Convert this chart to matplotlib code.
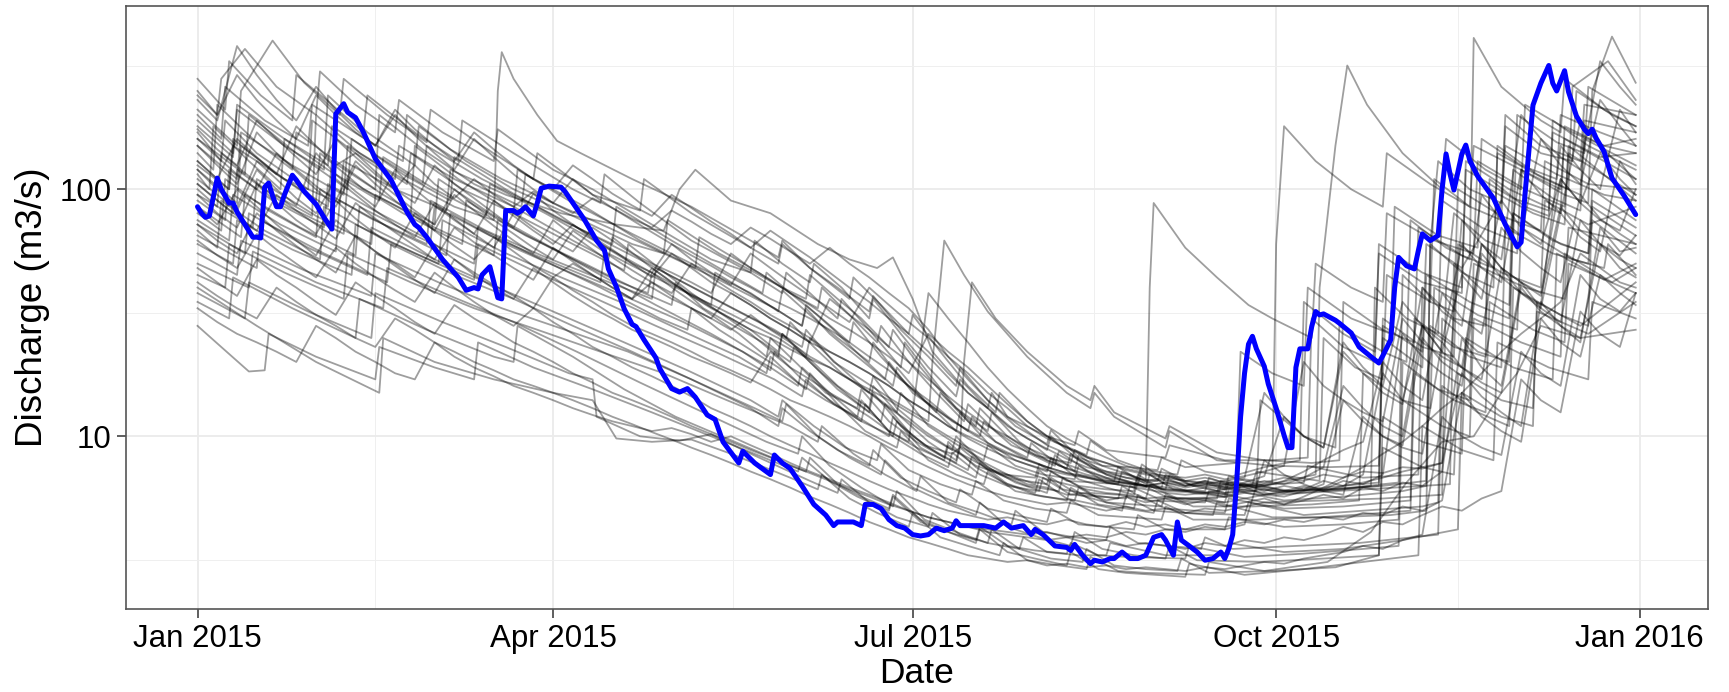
import numpy as np
import matplotlib
matplotlib.use('Agg')
import matplotlib.pyplot as plt
import matplotlib.dates as mdates
from matplotlib.ticker import FixedLocator, NullFormatter, FixedFormatter

plt.rcParams['font.family'] = ['Liberation Sans', 'DejaVu Sans']

START = np.datetime64('2015-01-01')

# ---- 2015 discharge (blue) : day offset from 1 Jan 2015, value (m3/s)
blue_days = [0, 1, 2, 3, 5, 6, 8, 9, 10, 12, 14, 15, 16, 17, 18, 19, 20, 21, 22, 24, 25, 27, 30, 32, 34,
             35, 37, 38, 40, 42, 45, 49, 53, 55, 56, 58, 62, 66, 68, 70, 71, 72, 74, 75, 76, 77, 78, 80,
             81, 82, 83, 85, 86, 87, 89, 92, 93, 95, 98, 101, 103, 104, 106, 108, 110, 111, 113, 116, 117,
             120, 122, 124, 126, 129, 131, 133, 136, 137, 138, 141, 145, 146, 148, 150, 153, 156, 159, 161,
             162, 164, 166, 168, 169, 171, 173, 175, 177, 179, 181, 183, 185, 187, 189, 191, 192, 193, 196,
             199, 202, 204, 206, 209, 211, 212, 214, 217, 220, 221, 222, 224, 226, 227, 229, 231, 232, 234,
             236, 238, 240, 242, 244, 245, 247, 248, 249, 251, 253, 255, 257, 259, 260, 261, 262, 263, 264,
             265, 266, 267, 268, 270, 271, 273, 275, 276, 277, 278, 279, 280, 281, 282, 283, 284, 285, 288,
             289, 292, 294, 297, 299, 300, 302, 303, 304, 306, 308, 309, 310, 312, 314, 315, 316, 317, 318,
             320, 321, 322, 324, 328, 331, 334, 335, 336, 338, 340, 342, 343, 344, 346, 347, 349, 351, 352,
             353, 354, 356, 358, 361, 364]
blue_q = [85, 80, 77, 78, 111, 100, 88, 88, 81, 72, 64, 64, 63.5, 102, 106, 94, 85, 85, 95, 114, 109, 98, 87, 77, 69,
          202, 222, 205, 195, 170, 133, 109, 81, 72, 70, 64, 52, 44, 39, 40, 39.5, 45, 48.6, 42, 36.4, 36, 82, 82,
          80, 82, 85, 78, 88, 101, 103, 102, 98, 88, 75, 62, 56.6, 47.6, 40.3, 32.8, 28.4, 27.8, 24.6, 20.8, 18.8,
          15.6, 15.1, 15.6, 14.4, 12.2, 11.7, 9.5, 8.2, 7.8, 8.7, 7.8, 7.0, 8.4, 7.8, 7.4, 6.3, 5.3, 4.8, 4.35,
          4.5, 4.5, 4.5, 4.35, 5.3, 5.3, 5.1, 4.6, 4.35, 4.25, 4.0, 3.95, 4.0, 4.25, 4.15, 4.25, 4.55, 4.35, 4.35,
          4.35, 4.25, 4.5, 4.25, 4.35, 4.0, 4.2, 4.0, 3.6, 3.55, 3.45, 3.65, 3.3, 3.05, 3.15, 3.1, 3.2, 3.2, 3.4,
          3.2, 3.2, 3.3, 3.9, 4.0, 3.8, 3.3, 4.5, 3.8, 3.6, 3.4, 3.15, 3.2, 3.4, 3.2, 3.5, 4.0, 6.5, 12,
          18, 23.6, 25.4, 22.6, 19.2, 16.3, 13, 10.1, 9.0, 9.0, 19, 22.6, 22.6, 22.6, 27.8, 32, 31, 31.3, 29.5,
          28.7, 26.2, 23, 21, 19.8, 21.2, 24.6, 40, 53, 49, 47.6, 56.6, 66, 62, 65, 100, 139, 115.5, 99.3,
          139, 151, 131, 113, 92, 72, 58.5, 61, 96, 219, 269, 317, 269, 250, 302, 248, 198, 175, 168,
          175, 161, 142, 111, 94.6, 79]

# ---- historical years (gray), irregular sampling: (day offset, discharge)
hist_01 = [(0,280),(7,210),(8,330),(16,240),(24,190),(25,290),(34,220),(42,170),(43,240),(55,170),(66,130),(67,190),(80,140),(95,100),(102,88),(103,115),(112,88),(125,62),(140,46),(148,38),(149,46),(155,38),(162,30),(163,36),(170,27),(178,19),(179,24),(185,18),(192,13),(200,10.5),(201,12.5),(208,9.5),(215,8),(222,7.2),(223,8.4),(230,7),(237,6.4),(245,6.1),(246,7),(252,6.3),(260,5.9),(268,6.0),(269,14),(280,10),(288,9),(289,28),(300,22),(306,20),(307,75),(316,58),(322,52),(323,410),(330,260),(340,190),(345,170),(346,280),(356,210),(364,180)]
hist_02 = [(0,240),(5,200),(6,280),(12,370),(20,260),(30,200),(31,300),(40,220),(50,170),(51,230),(62,170),(75,130),(76,175),(90,120),(100,100),(115,72),(130,52),(140,46),(141,62),(148,50),(155,42),(156,50),(163,40),(170,30),(171,36),(178,26),(185,19),(192,14.5),(193,17),(200,13),(207,10.5),(215,8.8),(216,10),(223,8),(230,7),(238,6.4),(239,7.3),(245,6.4),(252,5.9),(260,5.7),(261,6.6),(270,5.8),(285,6.2),(299,6.5),(300,28),(310,22),(311,60),(320,48),(330,90),(331,200),(340,150),(350,130),(351,220),(364,200)]
hist_03 = [(0,210),(10,150),(11,250),(19,400),(27,270),(36,200),(37,280),(48,200),(58,155),(59,210),(72,150),(85,110),(86,140),(100,95),(112,82),(113,110),(125,80),(140,58),(147,50),(148,60),(155,48),(165,36),(166,44),(173,34),(180,26),(181,31),(188,22),(195,16),(202,12.5),(203,15),(210,11.5),(217,9.5),(225,8.4),(226,9.6),(233,8),(240,7.3),(248,7),(249,8),(255,7.2),(262,6.9),(270,7.5),(279,8),(280,35),(290,26),(298,22),(299,55),(310,42),(320,38),(321,130),(332,100),(345,80),(346,180),(356,150),(364,160)]
hist_04 = [(0,190),(9,140),(10,210),(22,150),(32,120),(33,240),(43,170),(55,125),(56,180),(68,130),(80,100),(95,78),(110,60),(118,55),(119,75),(132,55),(140,47),(148,40),(154,36),(155,45),(162,36),(168,30),(175,23),(176,27),(183,19),(190,14),(197,11),(198,13),(205,10),(212,8.4),(220,7.4),(221,8.5),(228,7.2),(235,6.8),(243,6.6),(244,7.4),(250,6.6),(265,6.3),(280,6.5),(281,7.6),(295,6.8),(309,7),(310,40),(318,30),(326,28),(327,110),(336,85),(342,78),(343,190),(352,150),(364,120)]
hist_05 = [(0,170),(6,130),(7,190),(15,140),(28,100),(29,190),(40,140),(50,110),(51,150),(65,110),(80,85),(95,62),(104,52),(105,64),(115,48),(125,37),(140,27),(147,22),(148,26),(155,20.5),(162,16),(170,13),(171,16),(178,12),(185,9.5),(192,8),(193,9.3),(200,7.5),(207,6.5),(215,5.9),(216,6.8),(223,5.8),(230,5.4),(237,5.1),(238,5.8),(245,5.1),(260,4.9),(261,5.6),(275,5.1),(290,5.2),(307,5.5),(308,30),(318,23),(326,21),(327,100),(338,80),(346,72),(347,150),(364,90)]
hist_06 = [(0,160),(12,115),(13,200),(25,140),(38,100),(39,160),(52,115),(64,90),(65,135),(78,100),(92,75),(105,60),(106,85),(120,62),(135,45),(143,38),(144,46),(150,38),(158,30),(165,24),(166,29),(173,21),(180,16),(187,12.5),(188,15),(195,11.5),(202,9.5),(210,8.2),(211,9.4),(218,7.6),(225,7),(232,6.6),(233,7.5),(240,6.4),(248,6.1),(255,6),(256,6.8),(263,6.2),(270,6.3),(283,7),(284,40),(288,150),(291,317),(296,220),(305,140),(315,100),(316,160),(326,120),(335,100),(336,220),(348,170),(356,150),(364,140)]
hist_07 = [(0,140),(4,120),(5,220),(14,160),(24,120),(25,170),(35,130),(45,100),(46,200),(57,145),(70,105),(82,85),(83,115),(98,85),(112,62),(126,48),(127,64),(142,46),(150,38),(157,33),(158,40),(165,31),(172,24),(173,28),(180,20),(187,15),(194,11.5),(195,13.5),(202,10.5),(210,8.6),(217,7.6),(218,8.7),(225,7.3),(232,6.6),(240,6.2),(241,7),(247,6.1),(255,5.9),(262,5.8),(263,6.5),(277,6),(292,6.2),(304,6.5),(305,45),(312,35),(313,110),(322,85),(330,75),(331,180),(340,140),(348,130),(349,250),(358,200),(364,180)]
hist_08 = [(0,130),(8,100),(9,160),(20,115),(30,90),(31,140),(42,100),(54,80),(55,150),(66,110),(80,80),(95,60),(108,47),(109,60),(125,38),(140,26),(147,21),(148,26),(155,20),(162,15.5),(170,12.5),(171,15),(178,11),(185,9),(192,7.8),(193,9),(200,7.3),(207,6.7),(215,6.4),(216,7.2),(223,6.3),(230,6.1),(237,6),(238,6.8),(245,6),(255,5.9),(260,6.1),(272,6.5),(273,60),(275,180),(283,130),(292,100),(300,85),(301,140),(312,105),(322,85),(323,150),(335,120),(345,100),(346,160),(364,110)]
hist_09 = [(0,120),(10,88),(11,150),(22,110),(33,85),(34,130),(47,95),(60,72),(61,110),(74,80),(88,60),(102,45),(116,34),(130,26),(145,19),(152,16),(153,19),(160,15),(167,12),(175,10),(176,12),(183,9),(190,7.8),(197,6.8),(198,7.8),(205,6.4),(212,5.8),(220,5.5),(221,6.2),(228,5.3),(235,5.1),(242,4.9),(243,5.5),(250,4.9),(265,4.8),(266,5.4),(280,4.8),(295,5),(310,5.2),(314,5.4),(315,30),(324,22),(332,20),(333,80),(343,62),(352,55),(353,100),(364,75)]
hist_10 = [(0,115),(3,100),(4,180),(13,130),(21,100),(22,160),(33,120),(46,90),(47,135),(60,100),(73,78),(74,105),(88,80),(102,60),(116,45),(130,34),(131,46),(146,33),(153,28),(154,34),(161,27),(168,21),(176,16),(177,19),(184,14),(191,11.5),(198,10),(199,11.5),(206,9.2),(213,8.3),(221,7.8),(222,8.8),(229,7.6),(236,7.5),(243,7.3),(244,8.2),(250,7.5),(263,7.8),(264,22),(272,18),(280,16),(281,40),(292,30),(302,26),(303,85),(314,65),(324,58),(325,160),(335,125),(344,110),(345,200),(355,170),(364,150)]
hist_11 = [(0,105),(9,80),(10,120),(23,85),(37,66),(38,110),(52,80),(67,60),(68,90),(83,65),(98,50),(113,38),(120,34),(121,42),(128,33),(143,24),(150,20),(151,23),(158,18),(165,14.5),(173,11.5),(174,13.5),(181,10),(188,8.4),(195,7.3),(196,8.3),(203,7),(210,6.3),(218,6),(219,6.8),(226,5.9),(233,5.8),(240,5.6),(241,6.3),(248,5.6),(263,5.7),(264,6.4),(278,5.9),(290,6.1),(299,6.3),(300,25),(310,19),(311,45),(322,35),(332,30),(333,80),(345,60),(352,55),(353,85),(364,65)]
hist_12 = [(0,100),(5,85),(6,140),(17,100),(29,78),(30,200),(41,140),(53,105),(54,140),(67,100),(80,80),(81,120),(95,88),(110,66),(125,50),(140,38),(147,32),(148,39),(155,31),(162,25),(170,20),(171,24),(178,17),(185,13.5),(192,10.5),(193,12.5),(200,9.4),(207,8),(215,7.2),(216,8.2),(223,6.7),(230,6.2),(237,5.8),(238,6.5),(245,5.7),(260,5.4),(261,6.1),(275,5.5),(290,5.7),(305,6),(311,6.3),(312,60),(320,46),(328,40),(329,150),(339,115),(347,100),(348,260),(357,330),(364,230)]
hist_13 = [(0,95),(14,70),(15,110),(30,78),(44,60),(45,95),(60,70),(75,54),(76,75),(92,55),(107,42),(114,38),(115,46),(122,38),(137,26),(144,21),(145,25),(152,19.5),(159,15),(167,13),(168,15.5),(175,11.5),(182,9.5),(189,8.2),(190,9.5),(197,7.5),(204,6.5),(212,5.9),(213,6.7),(220,5.6),(227,5.3),(234,5.0),(235,5.7),(242,5),(257,4.8),(258,5.4),(272,4.7),(287,4.7),(302,4.8),(311,5),(312,28),(322,21),(330,19),(331,70),(343,55),(352,50),(353,75),(364,55)]
hist_14 = [(0,90),(7,75),(8,120),(19,90),(32,70),(33,105),(46,80),(59,62),(60,85),(74,65),(88,52),(102,42),(103,56),(117,43),(132,33),(147,25),(154,21),(155,25),(162,19.5),(169,15.5),(177,12.5),(178,15),(185,11),(192,9.3),(199,8),(200,9.2),(207,7.6),(214,7),(222,6.7),(223,7.6),(230,6.5),(237,6.4),(244,6.2),(245,7),(252,6.3),(267,6.4),(268,7.2),(284,6.6),(285,25),(293,19),(300,17),(301,45),(312,35),(318,32),(319,100),(330,78),(340,68),(341,130),(352,105),(364,100)]
hist_15 = [(0,85),(11,64),(12,95),(26,70),(40,54),(41,85),(56,64),(70,50),(71,70),(87,52),(102,40),(117,30),(124,27),(125,33),(132,27),(147,19),(154,15.5),(155,18),(162,13.5),(169,10.5),(177,9),(178,10.5),(185,8),(192,7),(199,6.4),(200,7.2),(207,6),(214,5.7),(222,5.5),(223,6.2),(230,5.4),(237,5.3),(244,5.2),(245,5.8),(252,5.2),(267,5.2),(282,5.3),(294,5.5),(295,18),(305,14),(312,13),(313,40),(324,31),(334,27),(335,70),(348,52),(356,48),(357,60),(364,45)]
hist_16 = [(0,80),(6,68),(7,110),(18,82),(30,64),(31,100),(44,76),(58,60),(59,90),(73,68),(87,54),(101,44),(115,36),(116,48),(131,36),(146,27),(153,23),(154,27),(161,20),(168,17),(176,14),(185,11.5),(186,20),(189,62),(194,45),(200,32),(210,21),(220,15),(226,13),(227,15),(232,12),(245,9),(246,10.5),(258,8),(272,7.6),(286,7.5),(299,7.6),(300,30),(310,23),(318,21),(319,60),(330,46),(340,40),(341,90),(352,72),(364,85)]
hist_17 = [(0,75),(8,62),(9,95),(21,72),(35,56),(36,90),(50,68),(63,54),(64,80),(78,60),(93,47),(108,37),(123,29),(138,22),(145,18.5),(146,22),(153,17),(160,14),(168,11.5),(169,13.5),(176,10),(183,8.5),(190,7.5),(191,8.6),(198,7),(205,6.3),(213,6),(214,6.8),(221,5.8),(228,5.7),(235,5.6),(236,6.3),(243,5.6),(258,5.6),(259,6.3),(273,5.8),(288,6),(303,6.2),(317,6.4),(318,50),(326,38),(332,34),(333,120),(343,92),(350,82),(351,160),(364,125)]
hist_18 = [(0,72),(12,55),(13,80),(28,58),(43,45),(44,70),(60,52),(76,40),(92,31),(108,24),(124,18.5),(140,14),(147,12),(148,14),(156,11),(164,9),(172,8),(173,9.3),(180,7.3),(188,6.4),(196,5.8),(197,6.6),(204,5.5),(212,5.1),(220,4.9),(221,5.5),(228,4.8),(236,4.7),(244,4.6),(245,5.2),(252,4.6),(268,4.6),(284,4.7),(300,4.9),(307,5),(308,18),(318,14),(326,12.5),(327,35),(338,27),(346,24),(347,50),(364,38)]
hist_19 = [(0,68),(5,58),(6,90),(17,68),(31,52),(32,85),(46,64),(61,50),(62,75),(77,56),(92,44),(107,35),(122,27),(137,21),(144,18),(145,21),(152,16.5),(159,14),(167,12),(168,14),(175,10.5),(182,9),(189,8),(190,9.2),(197,7.6),(204,7),(212,6.8),(213,7.7),(220,6.6),(227,6.5),(233,6.4),(234,7.2),(240,6.6),(241,40),(242,88),(250,58),(258,44),(266,34),(272,30),(282,25),(283,50),(292,40),(300,35),(301,80),(313,62),(323,55),(324,130),(336,100),(346,85),(347,140),(364,95)]
hist_20 = [(0,65),(15,48),(16,75),(32,55),(48,42),(49,60),(65,45),(80,36),(95,28),(110,22),(125,17),(140,13),(147,11),(148,13),(155,10.5),(162,8.8),(170,7.6),(171,8.8),(178,6.8),(185,6),(192,5.4),(193,6.1),(200,5.1),(207,4.8),(215,4.5),(216,5.1),(223,4.4),(230,4.3),(237,4.2),(238,4.8),(245,4.2),(260,4.2),(261,4.7),(275,4.3),(290,4.4),(304,4.6),(305,20),(314,15.5),(322,14),(323,50),(336,40),(346,36),(347,70),(364,60)]
hist_21 = [(0,60),(9,50),(10,75),(24,57),(39,45),(40,72),(55,55),(70,43),(71,60),(86,46),(101,36),(116,28),(131,22),(146,17),(153,14.5),(154,17),(161,13.5),(168,11.5),(176,10),(177,11.5),(184,9.2),(191,8.5),(193,9),(194,20),(196,42),(202,30),(210,22),(220,16),(226,14),(227,16),(232,12.5),(245,9.8),(246,11),(258,8.6),(270,8),(282,7.8),(289,8),(290,35),(300,27),(308,24),(309,70),(320,54),(328,48),(329,140),(341,110),(350,95),(351,190),(364,170)]
hist_22 = [(0,55),(10,45),(11,62),(27,47),(44,37),(45,55),(61,42),(77,33),(93,27),(109,22),(125,17),(141,13),(148,11.5),(149,13.5),(157,10),(165,8.2),(173,7),(174,8),(181,6.2),(189,5.4),(197,4.8),(198,5.4),(205,4.3),(213,3.9),(221,3.6),(222,4.1),(229,3.5),(237,3.3),(245,3.2),(246,3.6),(253,3.15),(269,3.1),(285,3.2),(299,3.3),(300,12),(310,9.5),(320,8.5),(321,25),(333,19),(343,17),(344,55),(356,43),(364,50)]
hist_23 = [(0,50),(13,40),(14,56),(30,42),(47,33),(48,48),(64,37),(80,29),(96,22),(112,16.5),(128,12.5),(144,9.5),(152,8.5),(153,10),(160,7.6),(168,6.2),(176,5.2),(177,6),(184,4.6),(192,4.1),(200,3.7),(201,4.2),(208,3.5),(216,3.2),(224,3.1),(225,3.5),(232,3.0),(240,2.9),(248,2.85),(249,3.2),(256,2.8),(272,2.85),(288,2.95),(299,3.3),(300,9),(310,7.5),(318,7),(319,18),(330,14),(338,13),(339,32),(352,26),(364,35)]
hist_24 = [(0,45),(7,40),(8,60),(22,46),(37,36),(38,55),(54,42),(70,33),(86,27),(102,22),(118,18),(134,14),(150,11),(157,9.5),(158,11),(166,8.5),(174,7),(182,6),(183,6.9),(190,5.4),(198,4.9),(206,4.4),(207,5),(214,4.1),(222,3.9),(230,3.8),(231,4.3),(238,3.7),(246,3.6),(254,3.5),(255,3.9),(262,3.5),(278,3.6),(294,3.7),(314,4),(315,16),(324,12.5),(332,11),(333,40),(345,31),(352,28),(353,90),(364,70)]
hist_25 = [(0,40),(15,28),(30,20),(46,15),(47,25),(60,20),(75,17),(90,15),(100,14),(106,9.8),(115,9.5),(125,9.7),(135,8.5),(150,6.8),(157,6.1),(158,7),(165,5.6),(172,4.9),(180,4.3),(181,4.9),(188,3.9),(195,3.6),(203,3.3),(204,3.7),(210,3.15),(218,3.0),(225,2.9),(226,3.25),(233,2.85),(240,2.8),(255,2.75),(256,3.1),(270,2.85),(286,3.1),(297,4.1),(306,6.5),(315,9.5),(323,10),(330,15),(334,18),(340,28),(350,25),(364,27)]
hist_26 = [(0,38),(12,30),(13,42),(28,32),(44,25),(45,38),(62,29),(78,23),(94,18),(100,17),(101,12),(112,10),(122,9.6),(130,10.2),(140,8.5),(155,6.6),(162,5.9),(163,6.7),(170,5.4),(177,4.7),(185,4.3),(186,4.9),(193,4),(200,3.7),(208,3.5),(209,3.9),(215,3.4),(223,3.3),(230,3.3),(231,3.7),(245,3.3),(260,3.3),(261,3.7),(275,3.4),(290,3.5),(305,3.8),(319,4.2),(320,15),(330,12),(338,11),(339,35),(350,28),(364,42)]
hist_27 = [(0,35),(8,30),(9,44),(24,33),(40,25),(41,36),(58,27),(75,21),(80,20),(81,28),(95,21),(108,15.5),(121,12),(134,9.8),(147,8),(154,7.2),(155,8.2),(162,6.4),(168,5.7),(175,5.1),(176,5.8),(183,4.6),(190,4.1),(197,3.7),(198,4.2),(205,3.4),(212,3.2),(220,3.0),(221,3.4),(228,2.9),(235,2.8),(250,2.7),(251,3.05),(265,2.75),(280,2.9),(295,3.1),(309,3.3),(310,11),(320,8.8),(328,8),(329,24),(342,19),(352,17),(353,35),(364,30)]
hist_28 = [(0,28),(6,23),(13,18.3),(17,18.5),(18,26),(30,21),(45,17),(46,23),(60,19),(70,17),(71,24),(85,19),(100,15.5),(115,12.5),(130,10),(145,8),(152,7.2),(153,8.2),(160,6.6),(167,5.7),(175,5),(176,5.7),(183,4.5),(190,4.1),(197,3.8),(198,4.3),(205,3.6),(212,3.45),(220,3.35),(221,3.7),(228,3.3),(235,3.25),(250,3.2),(251,3.6),(265,3.25),(280,3.35),(295,3.5),(304,3.6),(305,14),(315,11),(322,10),(323,30),(335,24),(345,21),(346,55),(358,42),(364,48)]
hist_29 = [(0,150),(10,110),(11,170),(24,125),(37,95),(38,150),(52,110),(65,85),(75,75),(76,250),(77,359),(80,280),(86,200),(91,157),(97,140),(110,110),(125,85),(140,62),(147,53),(148,62),(155,48),(162,40),(170,32),(171,37),(178,27),(185,21),(192,16),(193,19),(200,14),(207,11),(215,9.3),(216,10.6),(223,8.2),(230,7.5),(238,6.8),(239,7.7),(245,6.6),(260,6.1),(261,6.9),(275,6),(290,6.1),(297,6.3),(298,40),(306,30),(314,26),(315,90),(325,70),(333,62),(334,200),(344,155),(351,140),(352,260),(364,200)]
hist_30 = [(0,125),(8,100),(9,150),(22,110),(36,88),(37,130),(50,100),(63,82),(64,120),(78,95),(92,80),(106,72),(118,68),(122,100),(126,120),(135,90),(145,80),(157,60),(165,52),(172,48),(176,53),(181,36),(186,22),(195,15),(200,13),(201,15),(205,12),(215,10),(222,9.2),(223,10.5),(230,8.8),(245,8.2),(246,9.2),(260,8),(272,8),(281,8.2),(282,30),(290,23),(298,20),(299,60),(310,46),(320,40),(321,120),(333,92),(342,82),(343,170),(355,135),(364,140)]
hist_31 = [(0,180),(9,135),(10,220),(22,160),(33,125),(34,180),(46,135),(57,105),(58,150),(72,110),(86,85),(100,65),(114,50),(128,38),(142,29),(149,25),(150,29),(156,23),(163,18),(170,15),(171,17.5),(177,13),(184,10.5),(191,8.8),(192,10),(198,8),(205,7),(212,6.4),(213,7.3),(219,6.1),(226,5.8),(233,5.6),(234,6.3),(240,5.5),(255,5.4),(256,6),(270,5.4),(285,5.5),(300,5.6),(315,5.8),(316,40),(318,80),(326,62),(334,55),(335,120),(346,95),(352,88),(353,250),(358,415),(364,270)]
hist_32 = [(0,200),(6,160),(7,260),(17,190),(28,150),(29,220),(41,165),(52,130),(53,200),(64,145),(77,110),(90,88),(104,70),(118,55),(132,43),(146,33),(153,28),(154,33),(160,26),(167,21),(174,17),(175,20),(181,15),(188,12.5),(195,10.5),(196,12),(202,9.5),(209,8.2),(216,7.4),(217,8.4),(223,7),(230,6.5),(237,6.2),(238,7),(244,6.1),(258,5.9),(259,6.6),(272,6),(286,6.1),(300,6.3),(311,6.6),(312,60),(314,130),(322,100),(330,88),(331,150),(344,115),(356,95),(364,90)]

# ---- historical years (gray), sampled every 5 days (days 0,5,...,360,364)
grid5_days = list(range(0, 361, 5)) + [364]
hist_33 = [130,110,160,135,115,180,150,125,140,118, 100,125,105,92,110,95,85,98,88,80, 92,84,76,70,82,74,66,60,70,63,
           56,50,58,50,44,38,33,27,21,17, 14,12,10.5,9.2,8.5,7.8,7.2,7.0,6.6,6.8, 6.3,6.5,6.1,6.4,6.0,6.3,6.1,6.6,6.3,7.0,
           18,14,28,22,45,36,90,70,60,110, 88,140,110,95]
hist_34 = [95,80,70,105,88,75,66,90,76,66, 58,80,68,59,52,64,56,49,44,50, 45,40,36,42,37,33,30,27,31,27,
           24,21,19,17,15,13,11.5,10,9,8.2, 7.4,7.0,6.4,6.2,5.8,5.9,5.5,5.7,5.4,5.6, 5.3,5.5,5.2,5.4,5.6,5.3,5.5,5.8,5.6,6.2,
           6.0,6.5,6.3,7.2,25,19,16,42,33,29, 75,60,52,48]
hist_35 = [250,200,290,230,190,160,240,200,170,150, 210,175,150,130,170,145,125,110,100,125, 110,96,86,78,95,84,74,66,58,68,
           60,53,46,40,35,30,26,22,18,15, 13,11,9.8,8.9,8.1,7.5,7.2,6.8,6.5,6.7, 6.3,6.6,6.2,6.5,6.9,12,10,9,24,19,
           16,35,28,24,60,48,42,120,95,80, 190,150,125,110]
hist_36 = [110,95,82,120,100,86,140,115,98,85, 120,100,86,75,66,90,78,68,60,72, 64,57,50,46,60,52,46,41,55,48,
           42,37,33,29,40,34,29,25,21,18, 15,13,11,9.8,9.0,8.2,7.8,7.3,7.0,6.8, 6.6,6.8,6.5,6.3,6.6,6.4,6.8,7.5,16,13,
           11,10,28,22,19,17,48,38,33,80, 64,56,130,105]
hist_37 = [62,54,48,66,57,50,44,58,50,44, 39,35,46,40,35,31,28,33,29,26, 23,21,19,17.5,16,14.5,13,12,11,10,
           9.2,8.5,7.8,7.2,6.6,6.1,5.7,5.3,5.0,4.8, 4.6,4.7,4.5,4.4,4.6,4.4,4.3,4.5,4.3,4.4, 4.2,4.4,4.3,4.5,4.4,4.6,4.5,4.7,4.6,4.9,
           4.8,5.2,5.0,5.5,15,12,10.5,9.5,30,24, 21,45,38,34]
hist_38 = [150,125,105,170,140,118,100,85,125,105, 90,78,68,95,82,71,62,55,75,65, 57,50,44,40,36,33,30,38,34,30,
           27,24,36,31,27,23,20,17,14.5,12.5, 11,10,9,8.3,7.7,7.2,6.8,6.6,6.3,6.1, 6.0,6.2,5.9,6.1,6.3,6.6,7.2,8,8.8,9.5,
           20,16,14,38,30,26,70,56,48,42, 95,76,66,60]
hist_39 = [33,29,26,24,22,20,28,25,22,20, 18,17,24,21,19,17.5,16,15,14,13, 12.2,11.5,11,10.5,10.8,10.2,9.5,10,9.2,8.5,
           7.8,7.2,6.7,6.2,5.8,5.4,5.0,4.7,4.5,4.3, 4.1,4.0,3.9,3.8,3.9,3.7,3.8,3.6,3.7,3.6, 3.5,3.7,3.6,3.8,3.7,3.9,3.8,4.0,4.3,4.1,
           4.5,4.4,4.8,5.2,5.0,5.6,6.0,17,14,12.5, 32,26,23,38]
hist_40 = [175,145,125,190,160,135,115,160,135,115, 100,88,125,105,92,80,70,96,82,72, 63,56,50,44,55,48,42,38,34,30,
           27,24,22,20,18,16,14,12.5,11,10, 9.2,8.5,8.0,7.5,7.1,6.9,6.6,6.5,6.3,6.5, 6.2,6.4,6.6,6.8,15,12,10,9,22,18,
           15,13.5,40,32,28,95,75,65,160,125, 105,230,180,150]
hist_41 = [85,72,100,85,72,62,54,75,64,56, 50,44,60,52,46,41,37,33,44,39, 35,31,28,26,24,22,20,18.5,17,15.5,
           14,13,12,11,10,9,8.2,7.5,6.9,6.4, 6.0,5.7,5.5,5.3,5.4,5.2,5.0,5.2,5.0,5.1, 4.9,5.1,5.0,5.2,5.4,5.3,5.7,6.2,6.8,7.5,
           8.5,9.5,11,13,15,18,22,26,30,35, 55,48,42,40]
hist_42 = [120,100,85,130,110,92,80,110,95,82, 72,64,88,76,66,58,80,70,62,56, 70,62,55,50,46,42,38,55,48,43,
           38,34,30,27,24,21,18,26,22,19, 16,13.5,11.5,10,9,8.3,7.8,7.4,7.1,6.9, 6.8,7,6.7,6.9,7.2,7.6,20,16,14,12.5,
           11.5,30,24,21,19,60,48,42,38,110, 88,75,68,100]
hist_43 = [48,42,37,52,45,40,35,31,42,37, 33,29,26,34,30,27,24,22,20,18, 16.5,15,14,13,12,11,10.2,9.5,8.8,8.2,
           7.6,7.1,6.6,6.1,5.7,5.3,5.0,4.7,4.5,4.3, 4.2,4.1,4.0,4.1,3.9,4.0,3.9,4.1,4.0,4.2, 4.1,4.3,4.2,4.4,8,7,6.4,6.0,5.8,12,
           10,9,8.5,24,19,16.5,15,40,32,28, 25,60,48,44]
hist_44 = [230,190,380,290,230,190,260,210,175,150, 200,165,140,120,160,135,115,100,88,110, 95,84,75,67,60,54,49,44,40,36,
           33,30,27,24,21,18.5,16,14,12,10.5, 9.4,8.6,8.0,7.5,7.1,6.8,6.5,6.3,6.1,5.9, 5.8,5.9,5.7,5.9,5.8,6.0,6.3,6.1,6.6,6.4,
           7,26,21,18,16,55,44,38,34,150, 120,100,210,170]
hist_45 = [72,62,55,80,68,59,52,46,65,56, 49,43,38,52,45,40,36,48,42,37, 33,30,27,25,23,21,19.5,18,16.5,22,
           19,17,15,13.5,12,10.5,9.5,38,30,24, 19,15.5,13,11,9.8,8.9,8.2,7.6,7.2,6.9, 6.6,6.4,6.2,6.0,6.1,5.9,6.2,6.0,6.3,6.5,
           6.8,7.2,7.5,7.8,18,14.5,12.5,11,35,28, 24,70,56,58]
hist_46 = [105,90,78,68,95,82,72,63,88,76, 67,59,52,70,61,54,48,43,58,51, 45,40,36,48,42,37,33,30,27,25,
           22.5,20.5,19,17,15.5,14,12.5,11.2,10,9, 8.2,7.6,7.1,6.7,6.4,6.1,5.9,5.8,5.6,5.7, 5.5,5.6,5.4,5.6,5.8,5.7,6.0,6.4,14,11.5,
           10,9.2,25,20,17.5,60,48,42,37,85, 68,60,54,65]
hist_47 = [42,37,33,30,40,35,31,28,25,23, 30,27,24,22,20,18.5,17,16,15,14, 13,12,11.2,10.4,9.7,9,8.4,7.8,7.2,6.7,
           6.2,5.7,5.3,4.9,4.5,4.2,3.9,3.7,3.5,3.3, 3.2,3.1,3.15,3.0,3.05,2.95,3.0,2.9,2.95,2.9, 2.85,2.95,2.9,3.0,3.1,3.05,3.2,3.3,3.4,3.6,
           3.5,3.8,4.0,12,10,9,8.4,22,18,16, 45,36,32,38]
hist_48 = [160,135,115,100,140,120,103,90,130,110, 95,82,72,100,86,75,66,58,52,68, 60,53,47,42,38,50,44,39,35,31,
           28,25,22,20,18,16,14,12.5,11,9.8, 8.9,8.2,7.7,7.3,7.0,6.8,6.6,6.5,6.3,6.5, 6.3,6.6,6.4,6.7,6.5,6.8,6.6,7.0,6.8,7.2,
           7.1,7.5,7.4,7.8,75,60,52,200,160,135, 120,330,260,220]

hist_pairs = [hist_01, hist_02, hist_03, hist_04, hist_05, hist_06, hist_07, hist_08,
              hist_09, hist_10, hist_11, hist_12, hist_13, hist_14, hist_15, hist_16,
              hist_17, hist_18, hist_19, hist_20, hist_21, hist_22, hist_23, hist_24,
              hist_25, hist_26, hist_27, hist_28, hist_29, hist_30, hist_31, hist_32]
hist_grid5 = [hist_33, hist_34, hist_35, hist_36, hist_37, hist_38, hist_39, hist_40,
              hist_41, hist_42, hist_43, hist_44, hist_45, hist_46, hist_47, hist_48]

x_tick_dates = ['2015-01-01', '2015-04-01', '2015-07-01', '2015-10-01', '2016-01-01']
x_tick_labels = ['Jan 2015', 'Apr 2015', 'Jul 2015', 'Oct 2015', 'Jan 2016']
y_ticks = [10, 100]
y_tick_labels = ['10', '100']

W, H = 1729, 692
fig = plt.figure(figsize=(W / 100, H / 100), dpi=100)
L, R, T, B = 126, 1708, 6, 609.3
ax = fig.add_axes([L / W, 1 - B / H, (R - L) / W, (B - T) / H])

def to_dates(days):
    return START + np.array(days, dtype=int).astype('timedelta64[D]')

gray_kw = dict(color='black', alpha=0.38, lw=1.3, solid_joinstyle='round', zorder=2)
series = [([p[0] for p in h], [p[1] for p in h]) for h in hist_pairs]
series += [(grid5_days, h) for h in hist_grid5]
for d, q in series:
    ax.plot(to_dates(d), q, **gray_kw)

ax.plot(to_dates(blue_days), blue_q, color='#0000FF', lw=3.6,
        solid_joinstyle='round', solid_capstyle='round', zorder=3)

ax.set_yscale('log')
ax.set_ylim(1.994, 552)
x0 = mdates.date2num(START)
ax.set_xlim(x0 - 18.1, x0 + 382.3)

major_x = mdates.date2num([np.datetime64(s) for s in x_tick_dates])
ax.xaxis.set_major_locator(FixedLocator(major_x))
ax.xaxis.set_major_formatter(FixedFormatter(x_tick_labels))
minor_x = [(major_x[i] + major_x[i + 1]) / 2 for i in range(len(major_x) - 1)]
ax.xaxis.set_minor_locator(FixedLocator(minor_x))
ax.xaxis.set_minor_formatter(NullFormatter())

ax.yaxis.set_major_locator(FixedLocator(y_ticks))
ax.yaxis.set_major_formatter(FixedFormatter(y_tick_labels))
ax.yaxis.set_minor_locator(FixedLocator([10 ** 0.5, 10 ** 1.5, 10 ** 2.5]))
ax.yaxis.set_minor_formatter(NullFormatter())

ax.set_axisbelow(True)
ax.grid(which='major', color='#EBEBEB', lw=1.3)
ax.grid(which='minor', color='#EFEFEF', lw=0.7)

for s in ax.spines.values():
    s.set_color('#555555')
    s.set_linewidth(1.2)

ax.tick_params(which='major', length=6.5, width=1.1, color='#333333',
               labelsize=22.5, labelcolor='black', pad=4)
ax.tick_params(which='minor', length=0)

ax.set_xlabel('Date', fontsize=25.5, labelpad=2)
ax.set_ylabel('Discharge (m3/s)', fontsize=26.5, labelpad=7)

fig.savefig('out.png', dpi=100)
